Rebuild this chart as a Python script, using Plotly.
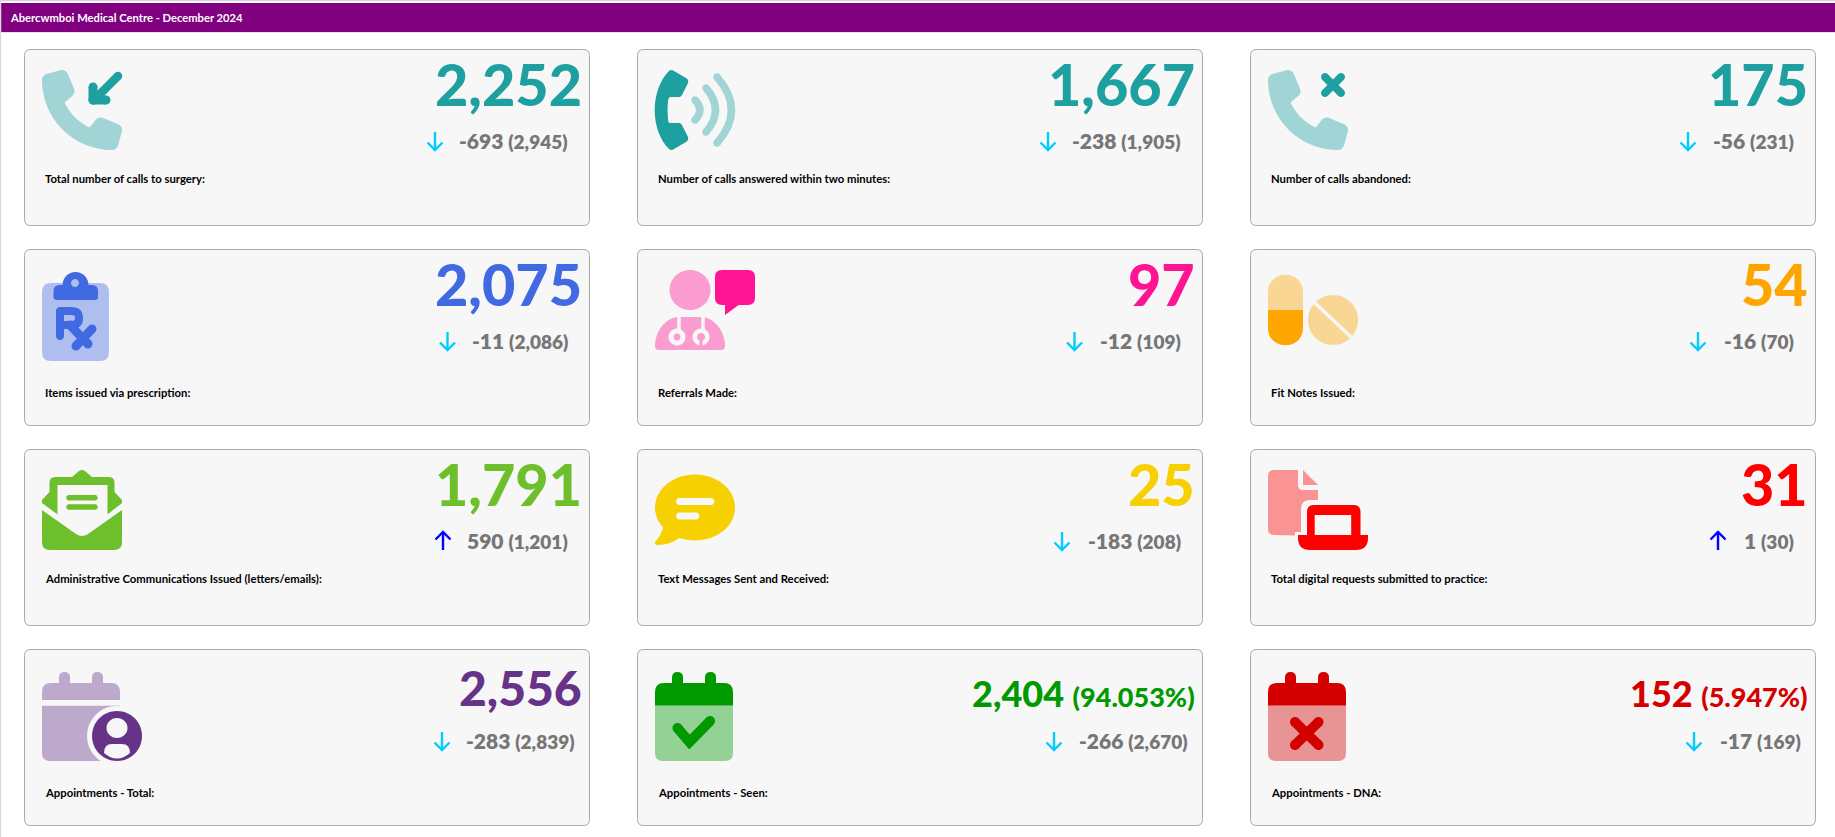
import re
import plotly.graph_objects as go

# ---------- data ----------
page_title = "Abercwmboi Medical Centre - December 2024"
labels = ["Total number of calls to surgery:", "Number of calls answered within two minutes:", "Number of calls abandoned:",
          "Items issued via prescription:", "Referrals Made:", "Fit Notes Issued:",
          "Administrative Communications Issued (letters/emails):", "Text Messages Sent and Received:",
          "Total digital requests submitted to practice:",
          "Appointments - Total:", "Appointments - Seen:", "Appointments - DNA:"]
values = [2252, 1667, 175, 2075, 97, 54, 1791, 25, 31, 2556, 2404, 152]
changes = [-693, -238, -56, -11, -12, -16, 590, -183, 1, -283, -266, -17]
previous = [2945, 1905, 231, 2086, 109, 70, 1201, 208, 30, 2839, 2670, 169]
shares = [None] * 10 + ["94.053%", "5.947%"]

# ---------- style ----------
colors = ["#1FA0A0", "#1FA0A0", "#1FA0A0", "#4169E1", "#FF1493", "#FFA500",
          "#6EBF2C", "#F6D000", "#FF0000", "#663388", "#009900", "#D40000"]
icons = ["phone_in", "phone_wave", "phone_x", "rx", "doctor", "pills", "mail", "chat", "laptop", "cal_user", "cal_check", "cal_x"]
big_size = [57.5, 57.5, 57.5, 57.5, 57.5, 57.5, 57.5, 57.5, 57.5, 48, 36, 36]
arrow_x = [435, 1048, 1688, 447.5, 1074.5, 1698, 443, 1062, 1718, 442, 1054, 1694]
label_dy = [129.3, 142.6, 129.3, 142.6]
big_dy = [34, 34, 34, 37.5]
col_left = [24.5, 637.5, 1250.5]
col_w = 565
row_top = [49.5, 249.5, 449.5, 649.5]
row_h = 176
BG = "#F7F7F7"
FONT = "Lato"
shapes = []


def blend(c, a=0.4):
    r, g, b = (int(c[i:i + 2], 16) for i in (1, 3, 5))
    return "#%02X%02X%02X" % tuple(round(a * v + (1 - a) * 247) for v in (r, g, b))


def tf(local, ox, oy, s=1.0):
    out, isx = [], True
    for t in re.findall(r"[MLCQZ]|-?[\d.]+", local):
        if t in "MLCQZ":
            out.append(t)
            isx = True
        else:
            out.append("%.2f" % ((ox if isx else oy) + float(t) * s))
            isx = not isx
    return " ".join(out)


def fill(local, color, ox, oy, s=1.0):
    shapes.append(dict(type="path", xref="x", yref="y", path=tf(local, ox, oy, s), fillcolor=color, line=dict(width=0), layer="above"))


def stroke(local, color, w, ox, oy):
    shapes.append(dict(type="path", xref="x", yref="y", path=tf(local, ox, oy), fillcolor="rgba(0,0,0,0)", line=dict(color=color, width=w), layer="above"))


def rr(x, y, w, h, r=0, rb=None):
    rb = r if rb is None else rb
    return (f"M{x + r} {y} L{x + w - r} {y} Q{x + w} {y} {x + w} {y + r} L{x + w} {y + h - rb} Q{x + w} {y + h} {x + w - rb} {y + h} "
            f"L{x + rb} {y + h} Q{x} {y + h} {x} {y + h - rb} L{x} {y + r} Q{x} {y} {x + r} {y} Z")


def el(cx, cy, rx, ry=None):
    ry = rx if ry is None else ry
    k = 0.5523
    return (f"M{cx - rx} {cy} C{cx - rx} {cy - k * ry} {cx - k * rx} {cy - ry} {cx} {cy - ry} "
            f"C{cx + k * rx} {cy - ry} {cx + rx} {cy - k * ry} {cx + rx} {cy} "
            f"C{cx + rx} {cy + k * ry} {cx + k * rx} {cy + ry} {cx} {cy + ry} "
            f"C{cx - k * rx} {cy + ry} {cx - rx} {cy + k * ry} {cx - rx} {cy} Z")


def cap(pts, color, w, ox, oy):
    stroke("M" + " L".join(f"{x} {y}" for x, y in pts), color, w, ox, oy)
    for x, y in (pts[0], pts[-1]):
        fill(el(x, y, w / 2), color, ox, oy)


PHONE = ("M164.9 24.6 C157.2 6 136.9 -3.9 117.5 1.4 L29.5 25.4 C12.1 30.2 0 46 0 64 C0 311.4 200.6 512 448 512 "
         "C466 512 481.8 499.9 486.6 482.5 L510.6 394.5 C515.9 375.1 506 354.8 487.4 347.1 L391.4 307.1 "
         "C375.1 300.3 356.2 305 345.1 318.7 L304.7 368 C234.3 334.7 177.3 277.7 144 207.3 L193.3 167 "
         "C207 155.8 211.7 137 204.9 120.7 L164.9 24.6 Z")


def calendar(c, ox, oy, top_light=False):
    cc = blend(c) if top_light else c
    fill(rr(17, 2, 11, 20, 5.5), cc, ox, oy)
    fill(rr(50, 2, 11, 20, 5.5), cc, ox, oy)


def icon(kind, c, ox, oy):
    lt = blend(c)
    if kind == "phone_in":
        fill(PHONE, lt, ox, oy, 80 / 512)
        cap([(76, 6), (52, 30)], c, 8.5, ox, oy)
        cap([(51, 30), (51, 17)], c, 9, ox, oy)
        cap([(51, 30), (64, 30)], c, 9, ox, oy)
    elif kind == "phone_x":
        fill(PHONE, lt, ox, oy, 80 / 512)
        cap([(57, 7), (73, 23)], c, 8, ox, oy)
        cap([(73, 7), (57, 23)], c, 8, ox, oy)
    elif kind == "phone_wave":
        fill("M14 1 Q16 -1 19 1 L31 8 Q34 10 33 13 L27 25 Q25 28 22 27 L15 27 Q13 28 13 31 Q12 40 13 49 Q13 53 15 53 L22 53 Q25 52 27 55 "
             "L33 67 Q34 70 31 72 L19 79 Q16 81 14 79 C-5 60 -5 20 14 1 Z", c, ox, oy)
        for a, b, d, w in [((40, 30), (50, 40), (40, 50), 7.5), ((51, 18), (70, 40), (51, 62), 7.5), ((62, 7), (91, 40), (62, 73), 7.5)]:
            stroke(f"M{a[0]} {a[1]} Q{b[0]} {b[1]} {d[0]} {d[1]}", lt, w, ox, oy)
            fill(el(a[0], a[1], w / 2), lt, ox, oy)
            fill(el(d[0], d[1], w / 2), lt, ox, oy)
    elif kind == "rx":
        fill(rr(0, 13, 67, 78, 9), lt, ox, oy)
        fill(el(33.5, 15, 13), c, ox, oy)
        fill(rr(11.5, 15, 44.5, 15, 6, 3), c, ox, oy)
        fill(el(33, 13, 4), lt, ox, oy)
        cap([(18, 41), (18, 66)], c, 8, ox, oy)
        stroke("M18 41 L29 41 Q37 41 37 48 Q37 55 29 55 L18 55", c, 8, ox, oy)
        cap([(28, 55), (46, 74)], c, 9, ox, oy)
        cap([(34, 76), (50, 59)], c, 9, ox, oy)
    elif kind == "doctor":
        fill(el(35, 20, 20.5, 20), lt, ox, oy)
        fill("M0 76 C0 60 12 47 24 47 L46 47 C58 47 70 60 70 76 Q70 80 66 80 L4 80 Q0 80 0 76 Z", lt, ox, oy)
        for x in (24, 48):
            stroke(f"M{x} 47 L{x} 61", BG, 3.5, ox, oy)
        fill(el(22, 67, 8.5), BG, ox, oy)
        fill(el(22, 67, 3.5), lt, ox, oy)
        fill(el(46, 67, 8.5), BG, ox, oy)
        fill(el(46, 67, 4), lt, ox, oy)
        stroke("M46 70 L46 76", lt, 3, ox, oy)
        fill(rr(60, 0, 40, 35, 7), c, ox, oy)
        fill("M70 34 L70 45 L85 34 Z", c, ox, oy)
    elif kind == "pills":
        fill("M0 40 L0 22 C0 -1 35 -1 35 22 L35 40 Z", lt, ox, oy)
        fill("M0 40 L35 40 L35 58 C35 81 0 81 0 58 Z", c, ox, oy)
        fill(el(65, 50, 25), lt, ox, oy)
        stroke("M46 32 L84 68", BG, 3.5, ox, oy)
    elif kind == "mail":
        fill("M0 30 L7.5 22 L7.5 13 Q7.5 7 13 7 L30 7 L37 1 Q40 -1 43 1 L50 7 L67 7 Q72.5 7 72.5 13 L72.5 22 L80 30 L80 33 L66 44 L15 44 L0 33 Z", c, ox, oy)
        fill(rr(15.5, 15, 50, 40, 0), BG, ox, oy)
        fill("M0 40 L34 64 Q40 68 46 64 L80 40 L80 72 Q80 80 72 80 L8 80 Q0 80 0 72 Z", c, ox, oy)
        cap([(27, 27.7), (53, 27.7)], c, 5.5, ox, oy)
        cap([(27, 37), (53, 37)], c, 5.5, ox, oy)
    elif kind == "chat":
        fill(el(40, 37.5, 40, 33), c, ox, oy)
        fill("M9 55 Q6 66 0 72 Q-1 75 3 75 Q15 75 26 67 Z", c, ox, oy)
        cap([(24.5, 31.5), (56, 31.5)], BG, 7, ox, oy)
        cap([(24.5, 46), (41, 46)], BG, 7, ox, oy)
    elif kind == "laptop":
        fill("M6 0 L30 0 L30 15 Q30 20 35 20 L50 20 L50 66 L6 65 Q0 65 0 59 L0 6 Q0 0 6 0 Z", lt, ox, oy)
        fill("M35 0 L50 15 L35 15 Z", lt, ox, oy)
        fill(rr(33, 30, 40, 50, 9), BG, ox, oy)
        fill(rr(27, 62, 20, 18, 0), BG, ox, oy)
        fill(rr(39, 35, 53.5, 32, 7, 0), c, ox, oy)
        fill(rr(46.7, 45, 36.5, 22, 0), BG, ox, oy)
        fill(f"M30 65 L100 65 L100 68 Q100 80 88 80 L42 80 Q30 80 30 68 Z", c, ox, oy)
    elif kind == "cal_user":
        calendar(c, ox, oy, True)
        fill(rr(0, 13, 78, 17, 9, 0), lt, ox, oy)
        fill(rr(0, 35.7, 78, 55.3, 0, 8), lt, ox, oy)
        fill(el(75, 66, 30), BG, ox, oy)
        fill(el(75, 66, 25), c, ox, oy)
        fill(el(75, 58, 10.5, 10), BG, ox, oy)
        fill("M62 83 Q62 74 70 74 L80 74 Q88 74 88 83 Q75 94 62 83 Z", BG, ox, oy)
    elif kind in ("cal_check", "cal_x"):
        calendar(c, ox, oy)
        fill(rr(0, 13, 78, 22.7, 9, 0), c, ox, oy)
        fill(rr(0, 35.7, 78, 55.3, 0, 8), lt, ox, oy)
        if kind == "cal_check":
            cap([(22.5, 58), (34.5, 72), (55, 51)], c, 10, ox, oy)
        else:
            cap([(27, 52), (50.5, 75)], c, 10, ox, oy)
            cap([(50.5, 52), (27, 75)], c, 10, ox, oy)


def fmt(v):
    return f"{v:,}"


annotations = []


def text(x, y, t, size, color, xanchor, weight=700, family=FONT):
    annotations.append(dict(xref="x", yref="y", x=x, y=y, text=t, showarrow=False, xanchor=xanchor, yanchor="middle",
                            borderpad=0, borderwidth=0, align="right" if xanchor == "right" else "left",
                            font=dict(family=family, size=size, color=color, weight=weight)))


# page chrome
shapes.append(dict(type="rect", xref="x", yref="y", x0=0, x1=1835, y0=0, y1=1.2, fillcolor="#D4D4D4", line=dict(width=0), layer="below"))
shapes.append(dict(type="rect", xref="x", yref="y", x0=0, x1=1.2, y0=0, y1=837, fillcolor="#D9D9D9", line=dict(width=0), layer="below"))
shapes.append(dict(type="rect", xref="x", yref="y", x0=1.2, x1=1835, y0=3, y1=32, fillcolor="#800080", line=dict(width=0), layer="below"))
shapes.append(dict(type="rect", xref="x", yref="y", x0=1.2, x1=1835, y0=32, y1=33, fillcolor="#E4E4E4", line=dict(width=0), layer="below"))
text(10, 17.5, page_title, 11.2, "#FFFFFF", "left")

for i, lab in enumerate(labels):
    r, k = divmod(i, 3)
    L, T = col_left[k], row_top[r]
    shapes.append(dict(type="path", xref="x", yref="y", path=tf(rr(0, 0, col_w, row_h, 6), L, T), fillcolor=BG,
                       line=dict(color="#ABABAB", width=1), layer="below"))
    icon(icons[i], colors[i], L + 17.5, T + 20.5)
    # headline number
    rx = L + col_w - 8
    if shares[i]:
        head = f'{fmt(values[i])} <span style="font-size:27px">({shares[i]})</span>'
        text(rx, T + 43, head, big_size[i], colors[i], "right", 900)
    else:
        text(rx, T + big_dy[r], fmt(values[i]), big_size[i], colors[i], "right", 900)
    # change vs previous
    dx = 21.5 if r < 3 else 15
    text(L + col_w - dx, T + 91, f'{fmt(changes[i])} <span style="font-size:19px">({fmt(previous[i])})</span>', 21, "#767676", "right", 800)
    ax = arrow_x[i]
    ay0, ay1 = T + 82.5, T + 100.5
    if changes[i] < 0:
        ac = "#00CCFF"
        stroke(f"M{ax} {ay0} L{ax} {ay1}", ac, 2.4, 0, 0)
        stroke(f"M{ax - 7.5} {ay1 - 7.5} L{ax} {ay1} L{ax + 7.5} {ay1 - 7.5}", ac, 2.4, 0, 0)
    else:
        ac = "#0000FF"
        stroke(f"M{ax} {ay0} L{ax} {ay1}", ac, 2.4, 0, 0)
        stroke(f"M{ax - 7.5} {ay0 + 7.5} L{ax} {ay0} L{ax + 7.5} {ay0 + 7.5}", ac, 2.4, 0, 0)
    text(L + 20.5, T + label_dy[r], lab, 11.3, "#000000", "left")

fig = go.Figure()
fig.update_layout(width=1835, height=837, margin=dict(l=0, r=0, t=0, b=0), paper_bgcolor="#FFFFFF", plot_bgcolor="#FFFFFF",
                  showlegend=False, shapes=shapes, annotations=annotations,
                  xaxis=dict(range=[0, 1835], visible=False, fixedrange=True),
                  yaxis=dict(range=[837, 0], visible=False, fixedrange=True))
fig.write_html("out.html", config=dict(displayModeBar=False, responsive=False),
               post_script="document.body.style.margin='0';document.body.style.overflow='hidden';")
